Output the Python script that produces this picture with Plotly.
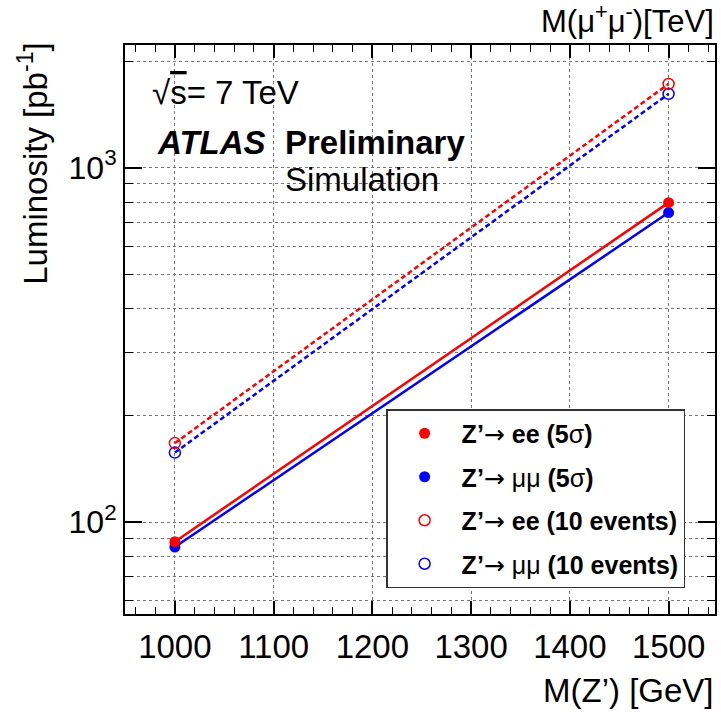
import math
import plotly.graph_objects as go

# ---------------- data ----------------
mass_gev = [1000, 1500]
lumi_ee_5sigma = [88, 797]
lumi_mumu_5sigma = [85, 747]
lumi_ee_10events = [167, 1724]
lumi_mumu_10events = [157, 1616]

x_tick_vals = [1000, 1100, 1200, 1300, 1400, 1500]
y_tick_vals = [100, 1000]
y_tick_text = ["10<sup>2</sup>", "10<sup>3</sup>"]
y_minor_vals = [60, 70, 80, 90, 200, 300, 400, 500, 600, 700, 800, 900, 2000]

ARROW = "<span style='font-family:DejaVu Sans;font-weight:normal'>→</span>"
NB = "<span style='font-weight:normal'>{}</span>"
legend_names = [
    "Z’" + ARROW + " ee (5" + NB.format("σ") + ")",
    "Z’" + ARROW + " " + NB.format("μμ") + " (5" + NB.format("σ") + ")",
    "Z’" + ARROW + " ee (10 events)",
    "Z’" + ARROW + " " + NB.format("μμ") + " (10 events)",
]

# ---------------- layout geometry ----------------
W, H = 721, 712
L, R, T, B = 125, 4, 45, 98
FONT = "Liberation Sans, Arial, Helvetica, sans-serif"


def px(x):
    return (x - L) / (W - L - R)


def py(y):
    return (H - B - y) / (H - T - B)


RED = "#ff0000"
BLUE = "#0000ff"

fig = go.Figure()

# lines (no legend)
fig.add_trace(go.Scatter(x=mass_gev, y=lumi_mumu_10events, mode="lines",
                         line=dict(color=BLUE, width=2.5, dash="5px,3px"), showlegend=False))
fig.add_trace(go.Scatter(x=mass_gev, y=lumi_ee_10events, mode="lines",
                         line=dict(color=RED, width=2.5, dash="5px,3px"), showlegend=False))
fig.add_trace(go.Scatter(x=mass_gev, y=lumi_mumu_5sigma, mode="lines",
                         line=dict(color=BLUE, width=2.5), showlegend=False))
fig.add_trace(go.Scatter(x=mass_gev, y=lumi_ee_5sigma, mode="lines",
                         line=dict(color=RED, width=2.5), showlegend=False))

# markers (legend)
fig.add_trace(go.Scatter(x=mass_gev, y=lumi_mumu_10events, mode="markers", name=legend_names[3],
                         legendrank=4, legendgroup="d",
                         marker=dict(symbol="circle-open", size=11, color=BLUE, line=dict(width=1.5))))
fig.add_trace(go.Scatter(x=mass_gev, y=lumi_ee_10events, mode="markers", name=legend_names[2],
                         legendrank=3, legendgroup="c",
                         marker=dict(symbol="circle-open", size=11, color=RED, line=dict(width=1.5))))
fig.add_trace(go.Scatter(x=mass_gev, y=lumi_mumu_5sigma, mode="markers", name=legend_names[1],
                         legendrank=2, legendgroup="b",
                         marker=dict(symbol="circle", size=11, color=BLUE)))
fig.add_trace(go.Scatter(x=mass_gev, y=lumi_ee_5sigma, mode="markers", name=legend_names[0],
                         legendrank=1, legendgroup="a",
                         marker=dict(symbol="circle", size=11, color=RED)))

grid_col = "#777777"

fig.update_xaxes(
    range=[949.5, 1547],
    tickmode="array", tickvals=x_tick_vals,
    ticks="inside", ticklen=13, tickwidth=1.5, tickcolor="black",
    showline=True, linewidth=2, linecolor="black", mirror="allticks",
    showgrid=True, gridcolor=grid_col, griddash="dot", gridwidth=1,
    zeroline=False,
    tickfont=dict(family=FONT, size=33, color="black"),
    ticklabelstandoff=2,
    minor=dict(tickmode="linear", tick0=1000, dtick=20, ticks="inside", ticklen=7,
               tickwidth=1, tickcolor="black", showgrid=False),
)
fig.update_yaxes(
    type="log",
    range=[math.log10(55), math.log10(2220)],
    tickmode="array", tickvals=y_tick_vals, ticktext=y_tick_text,
    ticks="inside", ticklen=17, tickwidth=1.5, tickcolor="black",
    showline=True, linewidth=2, linecolor="black", mirror="allticks",
    showgrid=True, gridcolor=grid_col, griddash="dot", gridwidth=1,
    zeroline=False,
    tickfont=dict(family=FONT, size=32, color="black"),
    ticklabelstandoff=0,
    minor=dict(tickmode="array", tickvals=y_minor_vals, ticks="inside", ticklen=8,
               tickwidth=1, tickcolor="black", showgrid=True, gridcolor=grid_col,
               griddash="dot", gridwidth=1),
)

ann_font = dict(family=FONT, size=33, color="black")
annotations = [
    dict(text="√<span style='text-decoration:overline'>s</span>= 7 TeV", x=px(150), y=py(93),
         xanchor="left", yanchor="middle"),
    dict(text="<b><i>ATLAS</i></b>", x=px(155), y=py(142), xanchor="left", yanchor="middle"),
    dict(text="<b>Preliminary</b>", x=px(284), y=py(142), xanchor="left", yanchor="middle"),
    dict(text="Simulation", x=px(284), y=py(180), xanchor="left", yanchor="middle"),
    dict(text="Luminosity [pb<sup>-1</sup>]", x=px(33), y=py(40), xanchor="center",
         yanchor="top", textangle=-90),
    dict(text="M(Z’) [GeV]", x=px(718), y=py(690), xanchor="right", yanchor="middle"),
    dict(text="M(μ<sup>+</sup>μ<sup>-</sup>)[TeV]", x=px(718), y=py(19), xanchor="right",
         yanchor="middle", font=dict(family=FONT, size=31, color="black")),
]
for a in annotations:
    a.setdefault("font", ann_font)
    a.update(xref="paper", yref="paper", showarrow=False)

fig.update_layout(
    width=W, height=H,
    margin=dict(l=L, r=R, t=T, b=B, pad=0),
    paper_bgcolor="white", plot_bgcolor="white",
    font=dict(family=FONT, color="black"),
    annotations=annotations,
    legend=dict(
        x=px(387), y=py(409), xanchor="left", yanchor="top",
        bgcolor="white", bordercolor="#333333", borderwidth=1.5,
        font=dict(family=FONT, size=25, color="black", weight="bold"),
        traceorder="grouped", tracegroupgap=8, itemwidth=64,
    ),
)

fig.write_html("out.html")
